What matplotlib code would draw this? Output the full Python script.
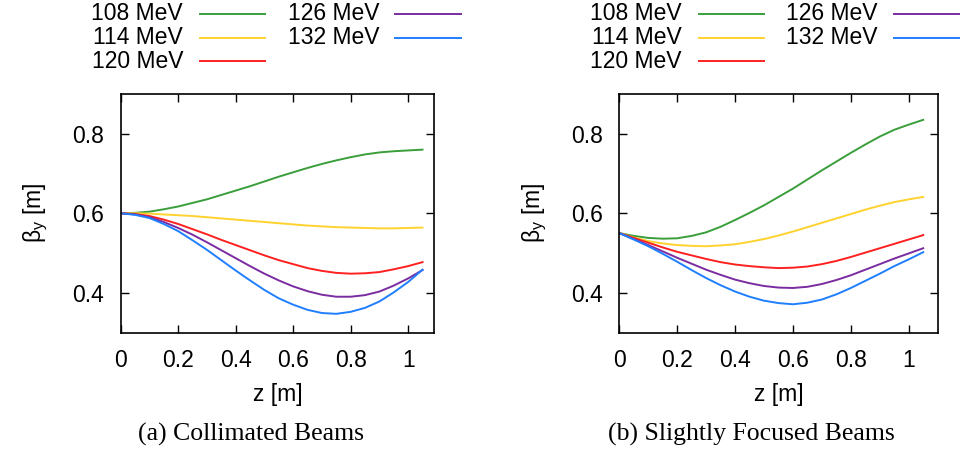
import matplotlib
matplotlib.use("Agg")
import matplotlib.pyplot as plt
from matplotlib.lines import Line2D

plt.rcParams['font.family'] = ['Liberation Sans', 'DejaVu Sans']
plt.rcParams['mathtext.fontset'] = 'custom'
plt.rcParams['mathtext.rm'] = 'Liberation Sans'
plt.rcParams['mathtext.it'] = 'Liberation Sans'

# data
z = [0.0, 0.05, 0.1, 0.15, 0.2, 0.25, 0.3, 0.35, 0.4, 0.45, 0.5, 0.55,
     0.6, 0.65, 0.7, 0.75, 0.8, 0.85, 0.9, 0.95, 1.0, 1.05]
labels = ["108 MeV", "114 MeV", "120 MeV", "126 MeV", "132 MeV"]
colors = ["#3a9e3a", "#ffd22e", "#ff2020", "#7a2ca0", "#1f7fff"]

beta_collimated = [
    [0.600, 0.601, 0.604, 0.610, 0.617, 0.626, 0.635, 0.646, 0.657, 0.668, 0.680,
     0.692, 0.703, 0.714, 0.724, 0.733, 0.741, 0.748, 0.753, 0.756, 0.758, 0.760],
    [0.600, 0.600, 0.599, 0.597, 0.595, 0.593, 0.590, 0.587, 0.584, 0.581, 0.578,
     0.575, 0.572, 0.569, 0.567, 0.565, 0.564, 0.563, 0.562, 0.562, 0.563, 0.564],
    [0.600, 0.598, 0.593, 0.584, 0.573, 0.560, 0.547, 0.533, 0.520, 0.507, 0.494,
     0.482, 0.472, 0.462, 0.455, 0.450, 0.448, 0.449, 0.452, 0.459, 0.467, 0.477],
    [0.600, 0.597, 0.590, 0.578, 0.563, 0.546, 0.527, 0.507, 0.487, 0.467, 0.448,
     0.431, 0.416, 0.404, 0.395, 0.390, 0.390, 0.394, 0.403, 0.418, 0.436, 0.457],
    [0.600, 0.596, 0.588, 0.573, 0.555, 0.532, 0.508, 0.482, 0.456, 0.431, 0.407,
     0.386, 0.370, 0.357, 0.349, 0.347, 0.352, 0.362, 0.378, 0.401, 0.427, 0.458],
]
beta_focused = [
    [0.550, 0.543, 0.538, 0.536, 0.537, 0.543, 0.552, 0.566, 0.583, 0.601, 0.620,
     0.641, 0.662, 0.685, 0.708, 0.730, 0.752, 0.773, 0.793, 0.810, 0.823, 0.835],
    [0.550, 0.539, 0.530, 0.524, 0.520, 0.518, 0.517, 0.519, 0.522, 0.528, 0.535,
     0.544, 0.554, 0.565, 0.576, 0.587, 0.598, 0.609, 0.619, 0.628, 0.635, 0.641],
    [0.550, 0.538, 0.526, 0.514, 0.503, 0.494, 0.485, 0.477, 0.471, 0.467, 0.464,
     0.462, 0.463, 0.466, 0.472, 0.480, 0.490, 0.501, 0.512, 0.523, 0.534, 0.545],
    [0.550, 0.535, 0.520, 0.504, 0.488, 0.473, 0.458, 0.445, 0.433, 0.424, 0.417,
     0.413, 0.412, 0.415, 0.422, 0.432, 0.444, 0.458, 0.472, 0.486, 0.499, 0.512],
    [0.550, 0.534, 0.517, 0.498, 0.478, 0.457, 0.437, 0.419, 0.403, 0.390, 0.380,
     0.374, 0.371, 0.375, 0.383, 0.396, 0.412, 0.430, 0.448, 0.467, 0.484, 0.502],
]

xticks = [0, 0.2, 0.4, 0.6, 0.8, 1.0]
xticklabels = ["0", "0.2", "0.4", "0.6", "0.8", "1"]
yticks = [0.4, 0.6, 0.8]
yticklabels = ["0.4", "0.6", "0.8"]
captions = ["(a) Collimated Beams", "(b) Slightly Focused Beams"]

W, H = 960, 453
fig = plt.figure(figsize=(W / 100, H / 100), dpi=100)


def px_box(x0, y0, x1, y1):
    return [x0 / W, 1 - y1 / H, (x1 - x0) / W, (y1 - y0) / H]


boxes = [px_box(120.7, 94, 434, 332.5), px_box(619.3, 94, 937.7, 332.5)]
fs = 16.5

for k, (data, box) in enumerate(zip([beta_collimated, beta_focused], boxes)):
    ax = fig.add_axes(box)
    for vals, col, lab in zip(data, colors, labels):
        ax.plot(z, vals, color=col, lw=1.4, label=lab)
    ax.set_xlim(0, 1.09 if k == 0 else 1.1)
    ax.set_ylim(0.3, 0.9)
    ax.set_xticks(xticks)
    ax.set_xticklabels(xticklabels)
    ax.set_yticks(yticks)
    ax.set_yticklabels(yticklabels)
    ax.tick_params(direction='in', length=6, width=1, top=True, right=True,
                   labelsize=fs, pad=12)
    for s in ax.spines.values():
        s.set_linewidth(1.2)
    ax.set_xlabel("z [m]", fontsize=fs, labelpad=8)
    ax.set_ylabel(r"$\beta_\mathrm{y}$ [m]", fontsize=fs, labelpad=16)

    # gnuplot style key above each panel
    offs = 0 if k == 0 else 499
    text_x = [183 + offs, 379 + offs]
    line_x = [(200 + offs, 265 + offs), (395 + offs, 461 + offs)]
    rows = [14, 38, 61]
    for i, (lab, col) in enumerate(zip(labels, colors)):
        c, r = i // 3, i % 3
        y = 1 - rows[r] / H
        fig.text(text_x[c] / W, y, lab, fontsize=fs, ha='right', va='center')
        fig.add_artist(Line2D([line_x[c][0] / W, line_x[c][1] / W], [y, y],
                              color=col, lw=1.4))

    cx = [251, 751][k]
    fig.text(cx / W, 1 - 434 / H, captions[k], fontsize=18.5,
             family=['Liberation Serif', 'DejaVu Serif'], ha='center', va='center')

fig.savefig("out.png", dpi=100)
